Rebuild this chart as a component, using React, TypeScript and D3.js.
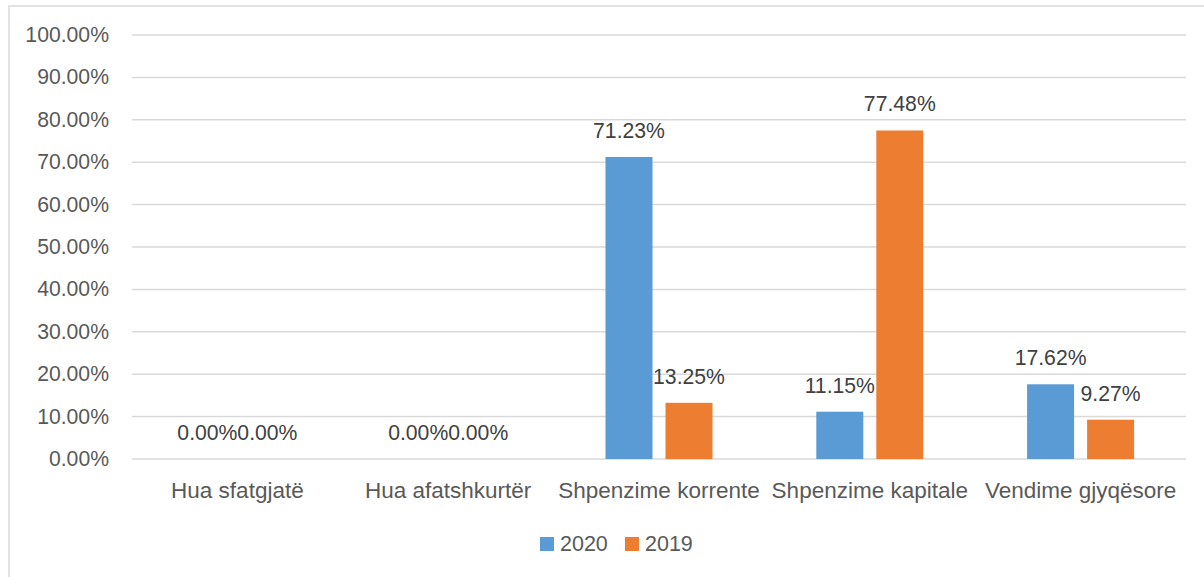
import React from "react";
import * as d3 from "d3";

const categories = ["Hua sfatgjatë", "Hua afatshkurtër", "Shpenzime korrente", "Shpenzime kapitale", "Vendime gjyqësore"];
const series2020 = [0, 0, 71.23, 11.15, 17.62];
const series2019 = [0, 0, 13.25, 77.48, 9.27];
const seriesNames = ["2020", "2019"];
const seriesColors = ["#5B9BD5", "#ED7D31"];
const yTicks = [0, 10, 20, 30, 40, 50, 60, 70, 80, 90, 100];

const W = 1204;
const H = 577;
const FONT = "'Liberation Sans', Arial, sans-serif";
const TEXT = "#595959";

export default function App() {
  const left = 132, right = 1186, top = 35, bottom = 459;
  const x = d3.scaleBand<string>().domain(categories).range([left, right]).padding(0);
  const y = d3.scaleLinear().domain([0, 100]).range([bottom, top]);
  const barW = 47;
  const gap = 13;
  const all = [series2020, series2019];
  const fmt = (v: number) => v.toFixed(2) + "%";

  return (
    <svg width={W} height={H} style={{ position: "absolute", left: 0, top: 0, background: "#fff" }}>
      <rect x={9} y={6} width={1210} height={600} fill="#fff" stroke="#D9D9D9" strokeWidth={1.5} />
      {yTicks.map((t) => (
        <g key={t}>
          <line x1={left} x2={right} y1={y(t)} y2={y(t)} stroke="#D9D9D9" strokeWidth={1.5} />
          <text x={109} y={y(t) + 7} textAnchor="end" fontFamily={FONT} fontSize={21.2} fill={TEXT}>
            {t.toFixed(2) + "%"}
          </text>
        </g>
      ))}
      {categories.map((c, i) => {
        const cx = x(c)! + x.bandwidth() / 2;
        return (
          <g key={c}>
            {all.map((s, si) => {
              const bx = si === 0 ? cx - gap / 2 - barW : cx + gap / 2;
              const v = s[i];
              return (
                <g key={si}>
                  <rect x={bx} y={y(v)} width={barW} height={bottom - y(v)} fill={seriesColors[si]} />
                  <text x={bx + barW / 2} y={y(v) - 19} textAnchor="middle" fontFamily={FONT} fontSize={21.2} fill="#404040">
                    {fmt(v)}
                  </text>
                </g>
              );
            })}
            <text x={cx} y={498} textAnchor="middle" fontFamily={FONT} fontSize={22.5} fill={TEXT}>
              {c}
            </text>
          </g>
        );
      })}
      {seriesNames.map((n, i) => {
        const lx = i === 0 ? 540 : 625;
        return (
          <g key={n}>
            <rect x={lx} y={537} width={14} height={14} fill={seriesColors[i]} />
            <text x={lx + 20} y={551} fontFamily={FONT} fontSize={21.5} fill={TEXT}>
              {n}
            </text>
          </g>
        );
      })}
    </svg>
  );
}
